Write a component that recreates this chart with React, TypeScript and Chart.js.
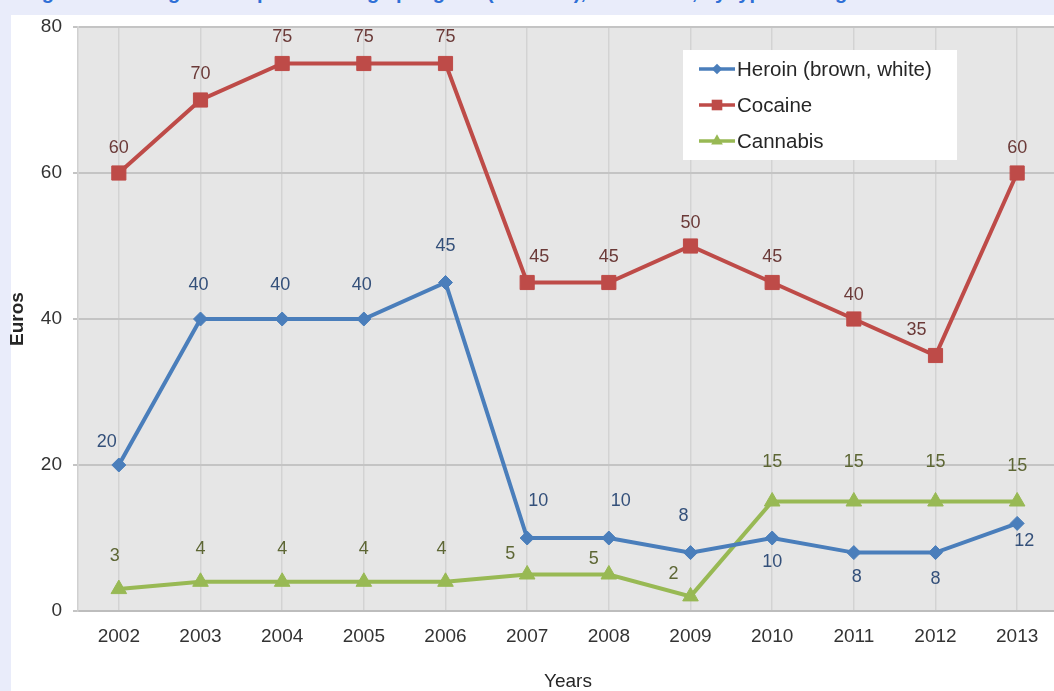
import React, { useEffect, useRef } from "react";
import { Chart, registerables } from "chart.js";

Chart.register(...registerables);

const years = ["2002", "2003", "2004", "2005", "2006", "2007", "2008", "2009", "2010", "2011", "2012", "2013"];
const heroin = [20, 40, 40, 40, 45, 10, 10, 8, 10, 8, 8, 12];
const cocaine = [60, 70, 75, 75, 75, 45, 45, 50, 45, 40, 35, 60];
const cannabis = [3, 4, 4, 4, 4, 5, 5, 2, 15, 15, 15, 15];
const seriesNames = ["Heroin (brown, white)", "Cocaine", "Cannabis"];
const yTickValues = [0, 20, 40, 60, 80];
const yAxisTitle = "Euros";
const xAxisTitle = "Years";
const pageTitle = "Figure 4: Average street price of drugs per gram (in Euros), 2002–2013, by type of drug";

// label placement offsets (style, not data)
const heroinLabelDx = [-12, -2, -2, -2, 0, 11, 12, -7, 0, 3, 0, 7];
const heroinLabelDy = [-23, -34, -34, -34, -36, -37, -37, -37, 24, 24, 26, 18];
const cocaineLabelDx = [0, 0, 0, 0, 0, 12, 0, 0, 0, 0, -19, 0];
const cocaineLabelDy = [-25, -26, -26, -26, -26, -25, -25, -23, -25, -24, -25, -25];
const cannabisLabelDx = [-4, 0, 0, 0, -4, -17, -15, -17, 0, 0, 0, 0];
const cannabisLabelDy = [-33, -33, -33, -33, -33, -20, -15, -22, -39, -39, -39, -35];

const FONT = '"Liberation Sans", Arial, sans-serif';

const BLUE = "#4a7ebb";
const RED = "#be4b48";
const GREEN = "#98b954";

function drawMarker(ctx: CanvasRenderingContext2D, style: string, x: number, y: number, r: number, color: string) {
  ctx.save();
  ctx.fillStyle = color;
  ctx.beginPath();
  if (style === "rectRot") {
    ctx.moveTo(x - r, y);
    ctx.lineTo(x, y - r);
    ctx.lineTo(x + r, y);
    ctx.lineTo(x, y + r);
  } else if (style === "rect") {
    const s = Math.SQRT1_2 * r;
    ctx.rect(x - s, y - s, 2 * s, 2 * s);
  } else {
    ctx.moveTo(x, y - r);
    ctx.lineTo(x + r * Math.sin((2 * Math.PI) / 3), y - r * Math.cos((2 * Math.PI) / 3));
    ctx.lineTo(x - r * Math.sin((2 * Math.PI) / 3), y - r * Math.cos((2 * Math.PI) / 3));
  }
  ctx.closePath();
  ctx.fill();
  ctx.restore();
}

const plotBgPlugin = {
  id: "plotBg",
  beforeDraw(chart: any) {
    const { ctx, chartArea } = chart;
    ctx.save();
    ctx.fillStyle = "#e6e6e6";
    ctx.fillRect(chartArea.left, chartArea.top, chartArea.right - chartArea.left, chartArea.bottom - chartArea.top);
    ctx.restore();
  },
};

const dataLabelPlugin = {
  id: "dataLabels",
  afterDatasetsDraw(chart: any) {
    const { ctx } = chart;
    chart.data.datasets.forEach((ds: any, di: number) => {
      const meta = chart.getDatasetMeta(di);
      ctx.save();
      ctx.font = `18px ${FONT}`;
      ctx.fillStyle = ds.labelColor;
      ctx.textAlign = "center";
      ctx.textBaseline = "middle";
      meta.data.forEach((pt: any, i: number) => {
        ctx.fillText(String(ds.data[i]), pt.x + ds.labelDx[i], pt.y + ds.labelDy[i]);
      });
      ctx.restore();
    });
  },
};

const legendPlugin = {
  id: "insideLegend",
  afterDraw(chart: any) {
    const { ctx, chartArea } = chart;
    const left = chartArea.right - 375;
    const top = chartArea.top + 23;
    ctx.save();
    ctx.fillStyle = "#ffffff";
    ctx.fillRect(left, top, 274, 110);
    ctx.font = `20.5px ${FONT}`;
    ctx.textBaseline = "middle";
    ctx.textAlign = "left";
    chart.data.datasets.forEach((ds: any, i: number) => {
      const y = top + 19 + i * 36;
      ctx.strokeStyle = ds.borderColor;
      ctx.lineWidth = 3.5;
      ctx.beginPath();
      ctx.moveTo(left + 16, y);
      ctx.lineTo(left + 52, y);
      ctx.stroke();
      drawMarker(ctx, ds.pointStyle, left + 34, y, ds.pointRadius * 0.75, ds.borderColor);
      ctx.fillStyle = "#262626";
      ctx.fillText(ds.label, left + 54, y + 1);
    });
    ctx.restore();
  },
};

export default function App() {
  const canvasRef = useRef<HTMLCanvasElement | null>(null);

  useEffect(() => {
    if (!canvasRef.current) return;
    const chart = new Chart(canvasRef.current, {
      type: "line",
      data: {
        labels: years,
        datasets: [
          {
            label: seriesNames[0],
            data: heroin,
            borderColor: BLUE,
            backgroundColor: BLUE,
            pointStyle: "rectRot",
            pointRadius: 7,
            pointBorderWidth: 1,
            borderWidth: 4,
            tension: 0,
            labelColor: "#34507a",
            labelDx: heroinLabelDx,
            labelDy: heroinLabelDy,
          } as any,
          {
            label: seriesNames[1],
            data: cocaine,
            borderColor: RED,
            backgroundColor: RED,
            pointStyle: "rect",
            pointRadius: 10,
            pointBorderWidth: 1,
            borderWidth: 4,
            tension: 0,
            labelColor: "#6b3a38",
            labelDx: cocaineLabelDx,
            labelDy: cocaineLabelDy,
          } as any,
          {
            label: seriesNames[2],
            data: cannabis,
            borderColor: GREEN,
            backgroundColor: GREEN,
            pointStyle: "triangle",
            pointRadius: 9,
            pointBorderWidth: 1,
            borderWidth: 4,
            tension: 0,
            labelColor: "#5d6634",
            labelDx: cannabisLabelDx,
            labelDy: cannabisLabelDy,
          } as any,
        ],
      },
      options: {
        responsive: false,
        animation: false,
        devicePixelRatio: 1,
        layout: { padding: { left: 8, right: 12, top: 27, bottom: 0 } },
        plugins: {
          legend: { display: false },
          tooltip: { enabled: false },
          title: { display: false },
        },
        scales: {
          x: {
            type: "category",
            offset: true,
            grid: { offset: false, color: "#d3d3d3", lineWidth: 1.5, drawTicks: false },
            border: { color: "#bdbdbd", width: 2 },
            ticks: { color: "#333333", font: { family: FONT, size: 19 }, padding: 14, maxRotation: 0 },
            title: {
              display: true,
              text: xAxisTitle,
              color: "#262626",
              font: { family: FONT, size: 19, lineHeight: 1 },
              padding: 0,
            },
            afterFit: (scale: any) => {
              scale.height = 80;
            },
          },
          y: {
            min: 0,
            max: 80,
            afterBuildTicks: (scale: any) => {
              scale.ticks = yTickValues.map((v) => ({ value: v }));
            },
            grid: { color: "#c4c4c4", lineWidth: 2, drawTicks: true, tickLength: 5 },
            border: { color: "#d0d0d0", width: 1.5 },
            ticks: { color: "#333333", font: { family: FONT, size: 19 }, padding: 11 },
            title: {
              display: true,
              text: yAxisTitle,
              color: "#262626",
              font: { family: FONT, size: 19, weight: "bold", lineHeight: 1 },
              padding: 0,
            },
            afterFit: (scale: any) => {
              scale.width = 70;
            },
          },
        },
      } as any,
      plugins: [plotBgPlugin, dataLabelPlugin, legendPlugin],
    });
    return () => chart.destroy();
  }, []);

  return (
    <div
      style={{
        position: "fixed",
        left: 0,
        top: 0,
        width: 1054,
        height: 691,
        overflow: "hidden",
        background: "#e9ecfa",
      }}
    >
      <div
        style={{
          position: "absolute",
          left: 24,
          top: -18,
          whiteSpace: "nowrap",
          font: `bold 20px ${FONT}`,
          color: "#2f6fd6",
          lineHeight: "20px",
        }}
      >
        {pageTitle}
      </div>
      <div style={{ position: "absolute", left: 11, top: 15, width: 1100, height: 700, background: "#ffffff" }} />
      <div style={{ position: "absolute", left: 0, top: 0, width: 1070, height: 691 }}>
        <canvas ref={canvasRef} width={1070} height={691} style={{ display: "block" }} />
      </div>
    </div>
  );
}
